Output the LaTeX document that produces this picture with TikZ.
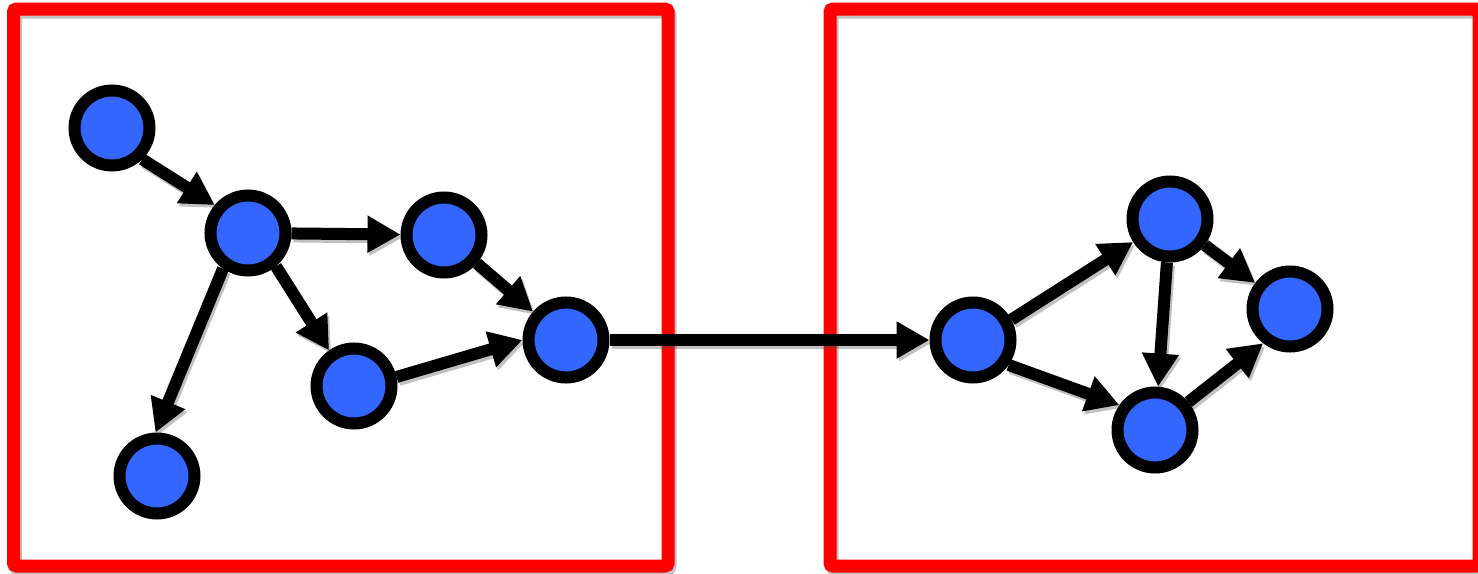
\documentclass[tikz,border=0pt]{standalone}
\usetikzlibrary{arrows.meta,shadows}
\definecolor{nodeblue}{RGB}{51,102,255}
\definecolor{boxred}{RGB}{255,0,0}
\begin{document}
\begin{tikzpicture}[x=1pt,y=-1pt,
  vert/.style={circle,draw=black,fill=nodeblue,line width=12pt,minimum size=75pt,inner sep=0pt,
    drop shadow={shadow xshift=2pt,shadow yshift=-3pt,opacity=0.3,fill=black}},
  edge/.style={line width=12pt,-{Triangle[length=33pt,width=35pt]}},
  shadowedge/.style={edge,draw=black!70,fill=black!70,opacity=0.35},
  frame/.style={draw=boxred,line width=13pt,rounded corners=3pt},
  shadowframe/.style={draw=black!70,line width=13pt,rounded corners=3pt,opacity=0.35}]
\useasboundingbox (0,0) rectangle (1478,573);
\begin{scope}[transform canvas={shift={(2pt,-3pt)}}]
\draw[shadowframe] (13.5,9) rectangle (668,566);
\draw[shadowframe] (830,9) rectangle (1479,566);
\end{scope}
\draw[frame] (13.5,9) rectangle (668,566);
\draw[frame] (830,9) rectangle (1479,566);
\node[vert] (a) at (112,128) {};
\node[vert] (b) at (248,233) {};
\node[vert] (c) at (444,235) {};
\node[vert] (d) at (566,340) {};
\node[vert] (e) at (354,386) {};
\node[vert] (f) at (157,476) {};
\node[vert] (g) at (973,340) {};
\node[vert] (h) at (1170,219) {};
\node[vert] (i) at (1290,309) {};
\node[vert] (j) at (1155,430) {};
\begin{scope}[transform canvas={shift={(2pt,-3pt)}}]
\draw[shadowedge] (a.-46) -- (b.140);
\draw[shadowedge] (b) -- (c);
\draw[shadowedge] (b.-50) -- (e.125);
\draw[shadowedge] (b.-125) -- (f.92);
\draw[shadowedge] (c) -- (d);
\draw[shadowedge] (e.12) -- (d.180);
\draw[shadowedge] (d) -- (g);
\draw[shadowedge] (g.28) -- (h.212);
\draw[shadowedge] (g.-35) -- (j.145);
\draw[shadowedge] (h) -- (i);
\draw[shadowedge] (h) -- (j);
\draw[shadowedge] (j.40) -- (i.232);
\end{scope}
\draw[edge] (a.-46) -- (b.140);
\draw[edge] (b) -- (c);
\draw[edge] (b.-50) -- (e.125);
\draw[edge] (b.-125) -- (f.92);
\draw[edge] (c) -- (d);
\draw[edge] (e.12) -- (d.180);
\draw[edge] (d) -- (g);
\draw[edge] (g.28) -- (h.212);
\draw[edge] (g.-35) -- (j.145);
\draw[edge] (h) -- (i);
\draw[edge] (h) -- (j);
\draw[edge] (j.40) -- (i.232);
\end{tikzpicture}
\end{document}
